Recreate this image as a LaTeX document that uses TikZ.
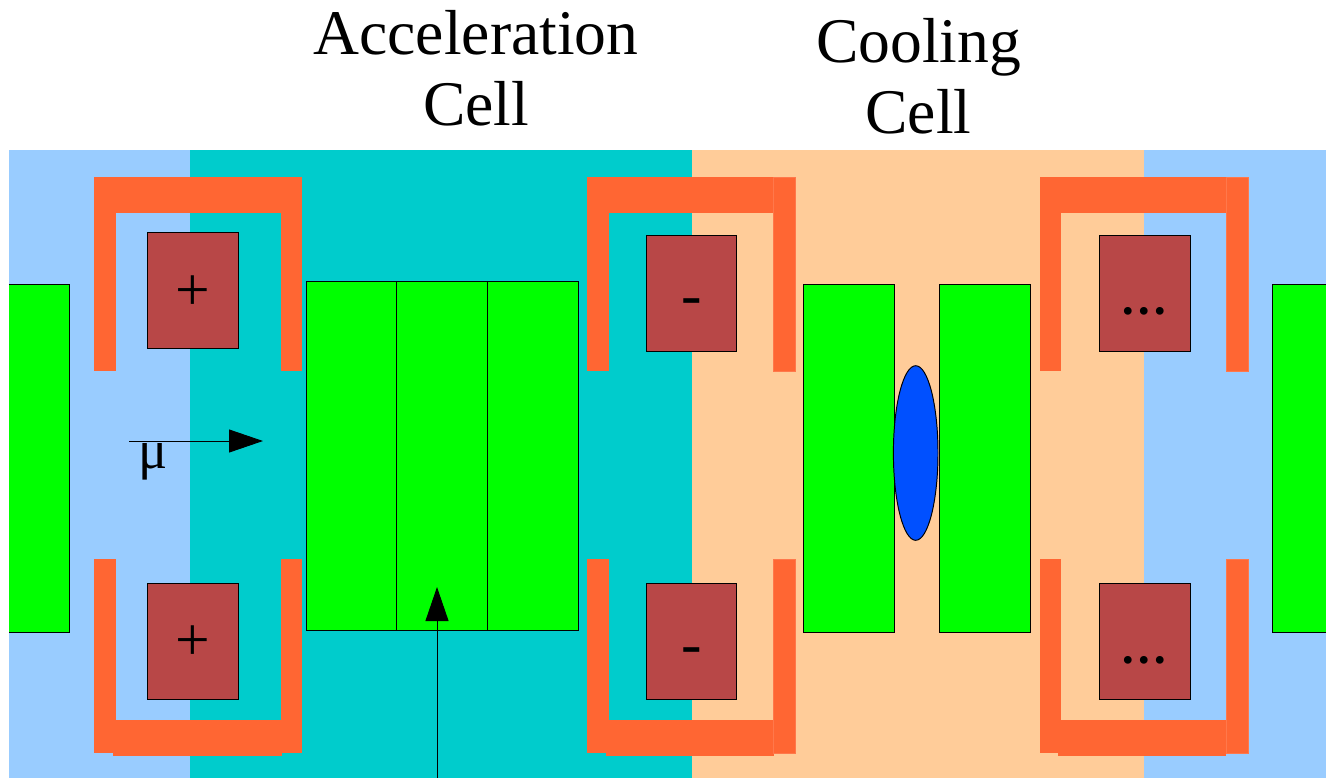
\documentclass[tikz,border=0pt]{standalone}
\usepackage{fontspec}
\setmainfont{Liberation Serif}
\usetikzlibrary{arrows.meta}
\definecolor{driftblue}{HTML}{99CCFF}
\definecolor{acccell}{HTML}{00CCCC}
\definecolor{coolcell}{HTML}{FFCC99}
\definecolor{magnetorange}{HTML}{FF6633}
\definecolor{coilbrown}{HTML}{B84747}
\definecolor{absblue}{HTML}{0050FF}
\tikzset{
  yoke/.style={fill=magnetorange, draw=none},
  yokeleg/.style={fill=magnetorange, draw=magnetorange!88!white, line width=0.3pt},
  coil/.style={fill=coilbrown, draw=black, line width=0.55pt},
  cavity/.style={fill=green, draw=black, line width=0.55pt},
  title/.style={font=\fontsize{36.2}{40.2}\selectfont, align=center, inner sep=0pt},
  coilsign/.style={font=\fontsize{35}{35}\selectfont, inner sep=0pt},
  coildots/.style={font=\bfseries\fontsize{27}{27}\selectfont, inner sep=0pt},
  beam/.style={line width=0.55pt, -{Triangle[length=0.68cm,width=0.46cm]}}
}
\begin{document}
\begin{tikzpicture}[x=0.02cm,y=-0.02cm]
  \useasboundingbox (0,0) rectangle (1326,778);

  %% cell backgrounds
  \fill[driftblue] (9,150) rectangle (190,778);
  \fill[acccell] (190,150) rectangle (692,778);
  \fill[coolcell] (692,150) rectangle (1144,778);
  \fill[driftblue] (1144,150) rectangle (1326,778);

  %% magnet 1
  \fill[yoke] (94.4,177.3) rectangle (116,371);
  \fill[yoke] (94.4,177.3) rectangle (281.5,213.3);
  \fill[yoke] (281.4,177.3) rectangle (302.2,371);
  \fill[yoke] (94.4,559) rectangle (116,753);
  \fill[yoke] (113,719.5) rectangle (281.5,755.5);
  \fill[yoke] (281.4,559) rectangle (302.2,753);

  %% magnet 2
  \fill[yoke] (587.4,177.3) rectangle (609,371);
  \fill[yoke] (587.4,177.3) rectangle (773.5,213.3);
  \draw[yokeleg] (773.5,177.3) rectangle (795.2,371);
  \fill[yoke] (587.4,559) rectangle (609,753);
  \fill[yoke] (606,719.5) rectangle (773.5,755.5);
  \draw[yokeleg] (773.5,559) rectangle (795.2,753);

  %% magnet 3
  \fill[yoke] (1040,177.3) rectangle (1061,371);
  \fill[yoke] (1040,177.3) rectangle (1226.3,213.3);
  \draw[yokeleg] (1226.3,177.3) rectangle (1247.8,371);
  \fill[yoke] (1040,559) rectangle (1061,753);
  \fill[yoke] (1058,719.5) rectangle (1226.3,755.5);
  \draw[yokeleg] (1226.3,559) rectangle (1247.8,753);

  %% coils
  \draw[coil] (147.5,232.5) rectangle (238.5,348.5);
  \draw[coil] (147.5,583.5) rectangle (238.5,699.5);
  \draw[coil] (646.5,235.5) rectangle (736.5,351.5);
  \draw[coil] (646.5,583.5) rectangle (736.5,699.5);
  \draw[coil] (1099.5,235.5) rectangle (1190,351.5);
  \draw[coil] (1099.5,583.5) rectangle (1190,699.5);

  %% rf cavities
  \draw[cavity] (9,284.5) -- (69.5,284.5) -- (69.5,632) -- (9,632);
  \draw[cavity] (306,281.5) rectangle (396.6,630);
  \draw[cavity] (396.6,281.5) rectangle (487.6,630);
  \draw[cavity] (487.6,281.5) rectangle (578,630);
  \draw[cavity] (803.5,284.5) rectangle (894.5,632.5);
  \draw[cavity] (939.5,284.5) rectangle (1030.5,632.5);
  \draw[cavity] (1326,284.5) -- (1272.5,284.5) -- (1272.5,632) -- (1326,632);

  %% absorber
  \draw[fill=absblue, draw=black, line width=0.55pt] (915.7,453) ellipse (22.3 and 87.3);

  %% beam and rf input
  \coordinate (beamstart) at (129,441);
  \coordinate (beamend) at (263,441);
  \coordinate (rfstart) at (437,778);
  \coordinate (rfend) at (437,587);
  \draw[beam] (beamstart) -- (beamend);
  \draw[beam] (rfstart) -- (rfend);

  %% labels
  \node[title] (acclabel) at (476,68.5) {Acceleration\\Cell};
  \node[title] (coollabel) at (918.5,76.5) {Cooling\\Cell};
  \node[coilsign] (muon) at (153.5,462) {\fontsize{31}{31}\selectfont μ};

  \node[coilsign] (plusup) at (192.7,293) {+};
  \node[coilsign] (plusdown) at (192.7,643.5) {+};
  \node[coilsign] (minusup) at (691.5,307) {-};
  \node[coilsign] (minusdown) at (691.5,656) {-};
  \node[coildots] (dotsup) at (1144.7,311) {…};
  \node[coildots] (dotsdown) at (1144.7,660) {…};
\end{tikzpicture}
\end{document}
